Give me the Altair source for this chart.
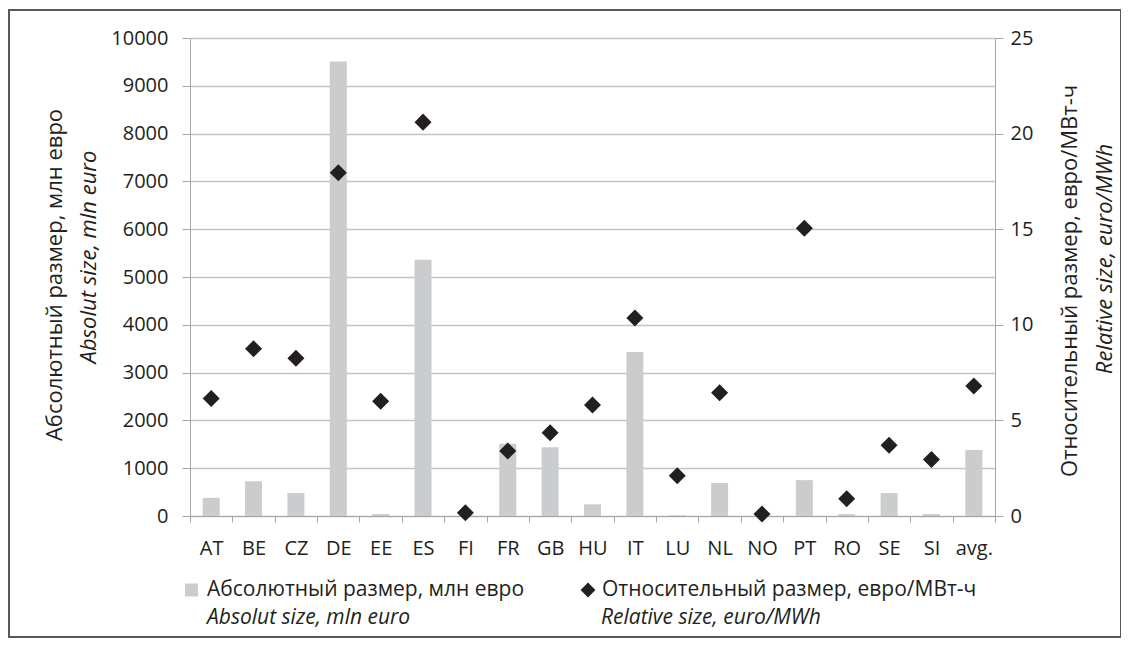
import altair as alt
import pandas as pd

categories = ["AT", "BE", "CZ", "DE", "EE", "ES", "FI", "FR", "GB", "HU",
              "IT", "LU", "NL", "NO", "PT", "RO", "SE", "SI", "avg."]
absolute_size = [380, 725, 480, 9510, 40, 5360, 10, 1510, 1440, 245,
                 3430, 15, 690, 5, 750, 40, 480, 40, 1380]
relative_size = [6.15, 8.75, 8.25, 17.95, 6.0, 20.6, 0.17, 3.4, 4.35, 5.8,
                 10.35, 2.1, 6.45, 0.1, 15.05, 0.9, 3.7, 2.95, 6.8]

left_ticks = list(range(0, 10001, 1000))
right_ticks = [0, 5, 10, 15, 20, 25]

left_title = ["Абсолютный размер, млн евро", "Absolut size, mln euro"]
right_title = ["Относительный размер, евро/МВт-ч", "Relative size, euro/MWh"]
legend_bar = ["Абсолютный размер, млн евро", "Absolut size, mln euro"]
legend_pt = ["Относительный размер, евро/МВт-ч", "Relative size, euro/MWh"]

df = pd.DataFrame({"cat": categories, "abs": absolute_size, "rel": relative_size})

W, H = 805, 478
FONT = "Open Sans"
FS_TICK = 20
FS_TITLE = 22
FS_LEG = 21
TXT = "#231f20"
AXC = "#a6a6a6"
BAR = "#cbccce"

xenc = alt.X(
    "cat:N", sort=categories,
    scale=alt.Scale(paddingInner=0, paddingOuter=0),
    axis=alt.Axis(title=None, tickBand="extent", labelAngle=0, labelFontSize=FS_TICK,
                  labelFont=FONT, labelColor=TXT, labelPadding=16, tickSize=6,
                  tickColor=AXC, domainColor=AXC, grid=False),
)

bars = alt.Chart(df).mark_bar(size=17, color=BAR).encode(
    x=xenc,
    y=alt.Y("abs:Q", scale=alt.Scale(domain=[0, 10000], nice=False),
            axis=alt.Axis(title=None, values=left_ticks, format="d", grid=True,
                          gridColor="#c4c4c4", gridWidth=1.3, tickSize=8,
                          tickColor=AXC, domainColor=AXC,
                          labelFont=FONT, labelFontSize=FS_TICK, labelColor=TXT,
                          labelPadding=14)),
)

points = alt.Chart(df).mark_point(shape="diamond", filled=True, size=290,
                                  color=TXT, opacity=1).encode(
    x=alt.X("cat:N", sort=categories),
    y=alt.Y("rel:Q", scale=alt.Scale(domain=[0, 25], nice=False),
            axis=alt.Axis(title=None, orient="right", values=right_ticks, grid=False,
                          tickSize=8, tickColor=AXC, domainColor=AXC,
                          labelFont=FONT, labelFontSize=FS_TICK, labelColor=TXT,
                          labelPadding=7)),
)


def label(text, x, y, size, angle=0, italic=False, align="center"):
    return alt.Chart(pd.DataFrame({"t": [text]})).mark_text(
        font=FONT, fontSize=size, color=TXT, angle=angle, align=align,
        baseline="middle", fontStyle="italic" if italic else "normal",
    ).encode(x=alt.value(x), y=alt.value(y), text="t:N")


layers = [
    label(left_title[0], -135, 237, FS_TITLE, angle=270),
    label(left_title[1], -101, 219, FS_TITLE, angle=270, italic=True),
    label(right_title[0], 880, 243, FS_TITLE, angle=270),
    label(right_title[1], 915, 221, FS_TITLE, angle=270, italic=True),
    label(legend_bar[0], 17, 552, FS_LEG, align="left"),
    label(legend_bar[1], 17, 580, FS_LEG, align="left", italic=True),
    label(legend_pt[0], 412, 552, FS_LEG, align="left"),
    label(legend_pt[1], 411, 580, FS_LEG, align="left", italic=True),
]

leg_sq = alt.Chart(pd.DataFrame({"k": [legend_bar[0]]})).mark_square(
    size=169, color=BAR, opacity=1).encode(x=alt.value(1.5), y=alt.value(552))
leg_dm = alt.Chart(pd.DataFrame({"k": [legend_pt[0]]})).mark_point(
    shape="diamond", filled=True, size=220, color=TXT, opacity=1).encode(
    x=alt.value(398), y=alt.value(552))

frame = alt.Chart(pd.DataFrame({"k": ["frame"]})).mark_rect(
    fill=None, stroke="#595959", strokeWidth=2).encode(
    x=alt.value(-181), x2=alt.value(931), y=alt.value(-28), y2=alt.value(599))

chart = alt.layer(bars, points, *layers, leg_sq, leg_dm, frame).resolve_scale(
    y="independent"
).properties(
    width=W, height=H,
    autosize=alt.AutoSizeParams(type="none"),
    padding={"left": 182, "top": 30, "right": 126, "bottom": 122},
).configure_view(stroke=None).configure(background="white")

chart.save("out.html", embed_options={"renderer": "svg", "actions": False})
